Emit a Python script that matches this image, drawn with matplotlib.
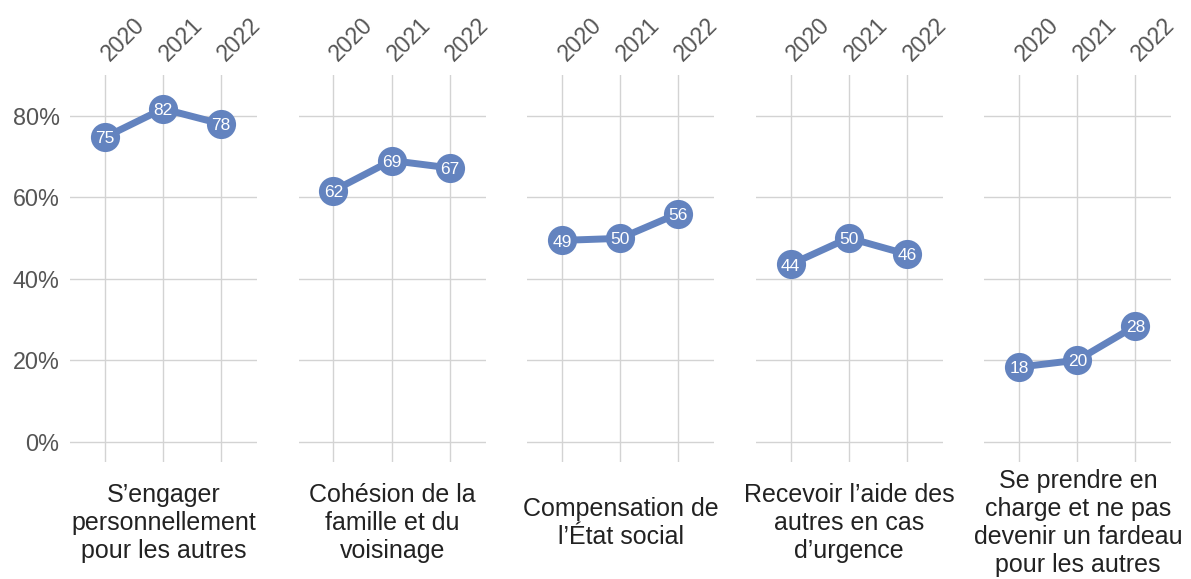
import matplotlib
matplotlib.use("Agg")
import matplotlib.pyplot as plt
import numpy as np

plt.rcParams['font.family'] = ['Liberation Sans', 'DejaVu Sans']

years = ["2020", "2021", "2022"]
categories = [
    "S\u2019engager\npersonnellement\npour les autres",
    "Cohésion de la\nfamille et du\nvoisinage",
    "Compensation de\nl\u2019État social",
    "Recevoir l\u2019aide des\nautres en cas\nd\u2019urgence",
    "Se prendre en\ncharge et ne pas\ndevenir un fardeau\npour les autres",
]
values = [
    [74.7, 81.7, 78.0],
    [61.6, 69.0, 67.2],
    [49.4, 49.9, 56.0],
    [43.5, 50.0, 46.0],
    [18.3, 20.0, 28.4],
]
labels = [
    [75, 82, 78],
    [62, 69, 67],
    [49, 50, 56],
    [44, 50, 46],
    [18, 20, 28],
]
yticks = [0, 20, 40, 60, 80]
ytick_labels = ["0%", "20%", "40%", "60%", "80%"]

color = "#6383BF"
grid_c = "#d3d3d3"

W, H = 1191, 579
fig = plt.figure(figsize=(W / 100, H / 100), dpi=100)

left0 = 70
step = 228.6
pw = 187
top = 75
bottom = 462

x = np.arange(len(years))
for i, (cat, vals, labs) in enumerate(zip(categories, values, labels)):
    l = left0 + i * step
    ax = fig.add_axes([l / W, 1 - bottom / H, pw / W, (bottom - top) / H])
    ax.set_xlim(-0.6, 2.62)
    ax.set_ylim(-5, 90)
    for s in ax.spines.values():
        s.set_visible(False)
    ax.set_yticks(yticks)
    ax.set_xticks(x)
    ax.grid(True, color=grid_c, lw=1)
    ax.set_axisbelow(True)
    ax.tick_params(length=0)
    ax.xaxis.tick_top()
    ax.set_xticklabels(years, rotation=45, ha='left', va='center',
                       rotation_mode='anchor', fontsize=16.5, color="#555555")
    ax.tick_params(axis='x', pad=13)
    if i == 0:
        ax.set_yticklabels(ytick_labels, fontsize=16.8, color="#555555")
        ax.tick_params(axis='y', pad=7.5)
    else:
        ax.set_yticklabels([])
    ax.plot(x, vals, color=color, lw=5, marker='o', ms=21,
            markerfacecolor=color, markeredgecolor='none', zorder=3,
            solid_capstyle='round')
    for xi, v, lab in zip(x, vals, labs):
        ax.text(xi, v - 0.4, str(lab), ha='center', va='center', color='white',
                fontsize=12.5, zorder=4)
    fig.text((l + pw / 2) / W, 1 - 523 / H, cat, ha='center', va='center',
             fontsize=18, color="#222222", linespacing=1.2)

fig.savefig("out.png", dpi=100, facecolor='white')
